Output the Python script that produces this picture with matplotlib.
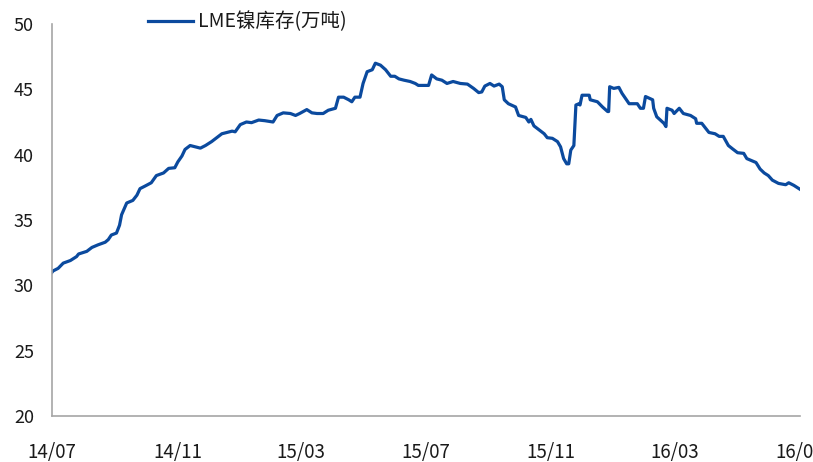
import matplotlib
matplotlib.use("Agg")
import matplotlib.pyplot as plt
import pandas as pd

plt.rcParams['font.family'] = ['Noto Sans CJK SC', 'DejaVu Sans']

series_name = "LME镍库存(万吨)"
start_date = "2014-07-01"
end_date = "2016-07-01"

day_offsets = [
    0, 1, 6, 11, 18, 24, 26, 34, 39, 45, 52, 55, 58, 63, 66, 68, 73, 79, 83, 86,
    91, 97, 102, 109, 114, 120, 123, 127, 130, 135, 140, 145, 150, 156, 161, 166,
    171, 176, 179, 184, 190, 195, 202, 208, 216, 220, 226, 233, 238, 242, 249, 254,
    259, 265, 270, 277, 280, 285, 290, 293, 296, 301, 304, 308, 313, 316, 321, 326,
    331, 335, 339, 344, 350, 355, 358, 368, 371, 376, 381, 386, 392, 399, 406, 412,
    417, 420, 423, 428, 432, 437, 440, 442, 446, 453, 456, 463, 466, 468, 471, 476,
    481, 484, 489, 494, 497, 500, 503, 505, 507, 510, 512, 515, 516, 518, 525, 526,
    533, 538, 543, 544, 545, 549, 554, 557, 564, 572, 575, 578, 580, 587, 588, 591,
    598, 600, 601, 606, 608, 613, 617, 624, 629, 630, 635, 639, 642, 648, 652, 656,
    661, 665, 670, 676, 679, 688, 692, 696, 700, 704, 710, 717, 720, 725, 731,
]

stock_values = [
    31.0, 31.1, 31.3, 31.7, 31.9, 32.2, 32.4, 32.6, 32.9, 33.1, 33.3, 33.5, 33.85, 34.0,
    34.6, 35.4, 36.3, 36.5, 36.9, 37.4, 37.6, 37.85, 38.4, 38.6, 38.95, 39.0, 39.45, 39.9,
    40.4, 40.7, 40.6, 40.5, 40.7, 41.0, 41.3, 41.6, 41.7, 41.8, 41.75, 42.3, 42.5, 42.45,
    42.65, 42.6, 42.5, 43.0, 43.2, 43.15, 43.0, 43.15, 43.45, 43.2, 43.15, 43.15, 43.4,
    43.55, 44.4, 44.4, 44.2, 44.05, 44.4, 44.4, 45.45, 46.35, 46.5, 47.0, 46.85, 46.5,
    46.0, 46.0, 45.8, 45.7, 45.6, 45.45, 45.3, 45.3, 46.1, 45.8, 45.7, 45.45, 45.6, 45.45,
    45.4, 45.07, 44.75, 44.8, 45.25, 45.45, 45.25, 45.4, 45.2, 44.2, 43.9, 43.65, 43.0,
    42.85, 42.5, 42.7, 42.2, 41.9, 41.6, 41.3, 41.25, 41.0, 40.6, 39.7, 39.3, 39.3, 40.35,
    40.7, 43.8, 43.9, 43.8, 44.55, 44.55, 44.2, 44.05, 43.65, 43.3, 43.3, 45.2, 45.07,
    45.15, 44.7, 43.9, 43.9, 43.55, 43.55, 44.45, 44.2, 43.55, 42.9, 42.4, 42.15, 43.55,
    43.4, 43.15, 43.55, 43.15, 43.0, 42.75, 42.4, 42.4, 42.0, 41.7, 41.6, 41.4, 41.4,
    40.7, 40.45, 40.15, 40.1, 39.7, 39.4, 38.9, 38.6, 38.4, 38.05, 37.8, 37.7, 37.85,
    37.65, 37.35,
]

tick_dates = ["2014-07-01", "2014-11-01", "2015-03-01", "2015-07-01",
              "2015-11-01", "2016-03-01", "2016-07-01"]
tick_labels = ["14/07", "14/11", "15/03", "15/07", "15/11", "16/03", "16/07"]
y_ticks = [20, 25, 30, 35, 40, 45, 50]

dates = pd.Timestamp(start_date) + pd.to_timedelta(day_offsets, unit="D")

fig = plt.figure(figsize=(8.13, 4.62), dpi=100)
ax = fig.add_axes([52 / 813, 1 - 416 / 462, (800 - 52) / 813, (416 - 24) / 462])

line_color = "#0B4A9E"
ax.plot(dates, stock_values, color=line_color, lw=2.3, solid_joinstyle="round",
        label=series_name)

ax.set_xlim(pd.Timestamp(start_date), pd.Timestamp(end_date))
ax.set_ylim(20, 50)
ax.set_yticks(y_ticks)
ax.set_xticks(pd.to_datetime(tick_dates))
ax.set_xticklabels(tick_labels)

for s in ["top", "right"]:
    ax.spines[s].set_visible(False)
for s in ["left", "bottom"]:
    ax.spines[s].set_color("#A6A6A6")
    ax.spines[s].set_linewidth(1.2)

ax.tick_params(axis="y", length=0, pad=13, labelsize=13, labelcolor="#1a1a1a")
ax.tick_params(axis="x", length=0, pad=19, labelsize=13.5, labelcolor="#1a1a1a")

fig.legend(loc="center left", bbox_to_anchor=(148 / 813, 1 - 22 / 462),
           frameon=False, fontsize=14, handlelength=2.3, handletextpad=0.25,
           borderpad=0, borderaxespad=0, labelcolor="#1a1a1a")

fig.savefig("out.png", dpi=100)
